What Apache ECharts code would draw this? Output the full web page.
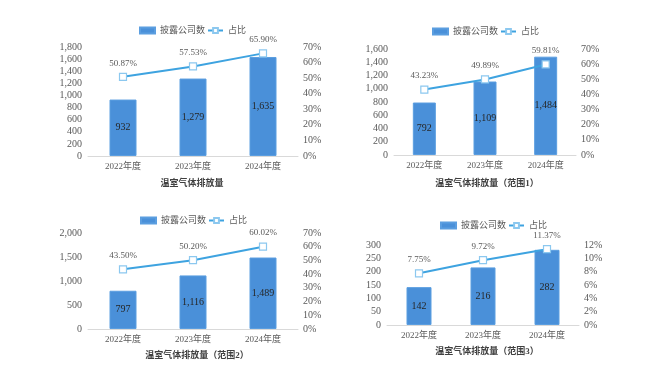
<!DOCTYPE html>
<html>
<head>
<meta charset="utf-8">
<script src="https://cdn.jsdelivr.net/npm/echarts@6/dist/echarts.min.js"></script>
<style>
  html, body { margin: 0; padding: 0; background: #fff; }
  #chart { width: 664px; height: 376px; }
</style>
</head>
<body>
<div id="chart"></div>
<script>
const years = ['2022年度', '2023年度', '2024年度']
const titles = ['温室气体排放量', '温室气体排放量（范围1）', '温室气体排放量（范围2）', '温室气体排放量（范围3）']
const counts1 = [932, 1279, 1635]
const ratio1 = [50.87, 57.53, 65.90]
const counts2 = [792, 1109, 1484]
const ratio2 = [43.23, 49.89, 59.81]
const counts3 = [797, 1116, 1489]
const ratio3 = [43.50, 50.20, 60.02]
const counts4 = [142, 216, 282]
const ratio4 = [7.75, 9.72, 11.37]

const countsAll = [counts1, counts2, counts3, counts4]
const ratioAll = [ratio1, ratio2, ratio3, ratio4]
// left axis max/interval, right axis max/interval
const leftAxis = [[1800, 200], [1600, 200], [2000, 500], [300, 50]]
const rightAxis = [[70, 10], [70, 10], [70, 10], [12, 2]]

// panel layout
const grids = [
  { left: 88, top: 47, width: 210, height: 109 },
  { left: 394, top: 49, width: 182, height: 106 },
  { left: 88, top: 233, width: 210, height: 96 },
  { left: 387, top: 245, width: 192, height: 80 }
]
const barW = [27, 23, 27, 25]
const legendPos = [[139, 26], [432, 27], [140, 216], [440, 221]]
const titlePos = [[192, 179], [487, 179], [197, 351], [487, 347]]

const numFont = "'Liberation Serif', 'Noto Sans CJK SC', serif"
const fmt = v => Number(v).toLocaleString('en-US')

const chart = echarts.init(document.getElementById('chart'))

const xAxis = []
const yAxis = []
const series = []
const legend = []
const title = []

grids.forEach((g, i) => {
  xAxis.push({
    type: 'category',
    gridIndex: i,
    data: years,
    axisTick: { show: false },
    axisLine: { lineStyle: { color: '#d9d9d9' } },
    axisLabel: { color: '#595959', fontSize: 9, margin: 6, fontFamily: numFont }
  })
  yAxis.push({
    type: 'value',
    gridIndex: i,
    min: 0,
    max: leftAxis[i][0],
    interval: leftAxis[i][1],
    splitLine: { show: false },
    axisLine: { show: false },
    axisTick: { show: false },
    axisLabel: { color: '#595959', fontSize: 10, margin: 6, fontFamily: numFont, formatter: fmt }
  })
  yAxis.push({
    type: 'value',
    gridIndex: i,
    position: 'right',
    min: 0,
    max: rightAxis[i][0],
    interval: rightAxis[i][1],
    splitLine: { show: false },
    axisLine: { show: false },
    axisTick: { show: false },
    axisLabel: { color: '#595959', fontSize: 10, margin: 5, fontFamily: numFont, formatter: '{value}%' }
  })
  series.push({
    name: '披露公司数',
    type: 'bar',
    xAxisIndex: i,
    yAxisIndex: i * 2,
    barWidth: barW[i],
    data: countsAll[i],
    itemStyle: { color: '#4a90d9', borderColor: '#5b9ee0', borderWidth: 1 },
    label: {
      show: true,
      position: 'inside',
      color: '#262626',
      fontSize: 10,
      fontFamily: numFont,
      formatter: p => fmt(p.value)
    }
  })
  series.push({
    name: '占比',
    type: 'line',
    xAxisIndex: i,
    yAxisIndex: i * 2 + 1,
    data: ratioAll[i],
    symbol: 'rect',
    symbolSize: 7,
    lineStyle: { color: '#3ea3e0', width: 2 },
    itemStyle: { color: '#fff', borderColor: '#8cc8ef', borderWidth: 1.2 },
    label: {
      show: true,
      position: 'top',
      distance: 5,
      color: '#595959',
      fontSize: 9,
      fontFamily: numFont,
      formatter: p => p.value.toFixed(2) + '%'
    }
  })
  legend.push({
    left: legendPos[i][0],
    top: legendPos[i][1],
    padding: 0,
    itemWidth: 15,
    itemHeight: 6,
    itemGap: 2,
    textStyle: { color: '#595959', fontSize: 9, fontFamily: numFont },
    data: [{ name: '披露公司数', icon: 'rect' }, { name: '占比' }]
  })
  title.push({
    text: titles[i],
    left: titlePos[i][0],
    top: titlePos[i][1],
    padding: 0,
    textAlign: 'center',
    textStyle: { color: '#404040', fontSize: 9, fontWeight: 'bold', fontFamily: numFont }
  })
})

chart.setOption({
  backgroundColor: '#fff',
  animation: false,
  title: title,
  legend: legend,
  grid: grids,
  xAxis: xAxis,
  yAxis: yAxis,
  series: series
})
</script>
</body>
</html>
